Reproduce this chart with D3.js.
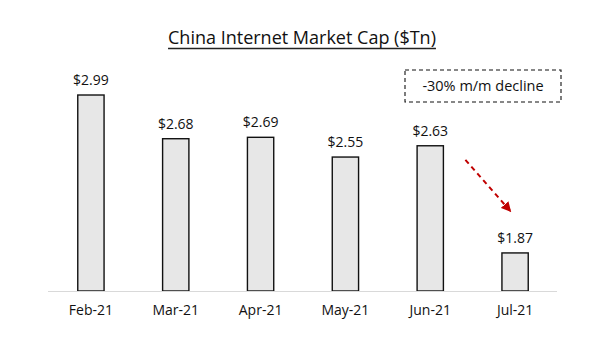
<!DOCTYPE html>
<html>
<head>
<meta charset="utf-8">
<script src="https://cdn.jsdelivr.net/npm/d3@7"></script>
<style>
  body { margin: 0; background: #fff; }
  text { font-family: "Open Sans", sans-serif; fill: #111; }
</style>
</head>
<body>
<svg id="chart" width="600" height="354"></svg>
<script>
// data
let months = ["Feb-21", "Mar-21", "Apr-21", "May-21", "Jun-21", "Jul-21"];
let marketCap = [2.99, 2.68, 2.69, 2.55, 2.63, 1.87];
let valueLabels = ["$2.99", "$2.68", "$2.69", "$2.55", "$2.63", "$1.87"];
let title = "China Internet Market Cap ($Tn)";
let note = "-30% m/m decline";

let data = months.map((m, i) => ({ month: m, value: marketCap[i], label: valueLabels[i] }));

let svg = d3.select("#chart");

//scales
let x = d3.scaleBand().domain(months).range([48.5, 557.5]).paddingInner(0.69).paddingOuter(0.345);
let y = d3.scaleLinear().domain([1.6, 3.2]).range([291, 65.4]);

//bars
svg.selectAll(".bar")
    .data(data)
    .enter().append("rect")
    .attr("class", "bar")
    .attr("x", d => x(d.month))
    .attr("y", d => y(d.value))
    .attr("width", x.bandwidth())
    .attr("height", d => y.range()[0] - y(d.value))
    .style("fill", "#e7e7e7")
    .style("stroke", "#111")
    .style("stroke-width", 1.4);

//x axis line
svg.append("line")
    .attr("x1", 48).attr("x2", 557)
    .attr("y1", 291.5).attr("y2", 291.5)
    .style("stroke", "#d9d9d9")
    .style("stroke-width", 1.2);

//value labels
svg.selectAll(".val")
    .data(data)
    .enter().append("text")
    .attr("class", "val")
    .attr("x", d => x(d.month) + x.bandwidth() / 2)
    .attr("y", d => y(d.value) - 10)
    .style("text-anchor", "middle")
    .style("font-size", "14px")
    .text(d => d.label);

//category labels
svg.selectAll(".cat")
    .data(data)
    .enter().append("text")
    .attr("class", "cat")
    .attr("x", d => x(d.month) + x.bandwidth() / 2)
    .attr("y", 315)
    .style("text-anchor", "middle")
    .style("font-size", "14px")
    .text(d => d.month);

//title with underline
let t = svg.append("text")
    .attr("x", 302)
    .attr("y", 44)
    .style("text-anchor", "middle")
    .style("font-size", "18px")
    .text(title);
let tb = t.node().getBBox();
svg.append("line")
    .attr("x1", tb.x).attr("x2", tb.x + tb.width)
    .attr("y1", 48.5).attr("y2", 48.5)
    .style("stroke", "#222")
    .style("stroke-width", 1.3);

//annotation box
svg.append("rect")
    .attr("x", 405).attr("y", 70)
    .attr("width", 156).attr("height", 32)
    .style("fill", "none")
    .style("stroke", "#111")
    .style("stroke-width", 1.1)
    .style("stroke-dasharray", "4,3");
svg.append("text")
    .attr("x", 483)
    .attr("y", 91)
    .style("text-anchor", "middle")
    .style("font-size", "14.5px")
    .text(note);

//arrow
svg.append("defs").append("marker")
    .attr("id", "head")
    .attr("viewBox", "0 0 10 10")
    .attr("refX", 8).attr("refY", 5)
    .attr("markerWidth", 5).attr("markerHeight", 5)
    .attr("orient", "auto")
    .append("path")
    .attr("d", "M0,0 L10,5 L0,10 Z")
    .style("fill", "#c00000");

let x0 = x("Jun-21") + x.bandwidth() + 22, x1 = x("Jul-21") + 8;
svg.append("line")
    .attr("x1", x0).attr("y1", y(2.53))
    .attr("x2", x1).attr("y2", y(2.17))
    .style("stroke", "#c00000")
    .style("stroke-width", 2)
    .style("stroke-dasharray", "5,4")
    .attr("marker-end", "url(#head)");
</script>
</body>
</html>
